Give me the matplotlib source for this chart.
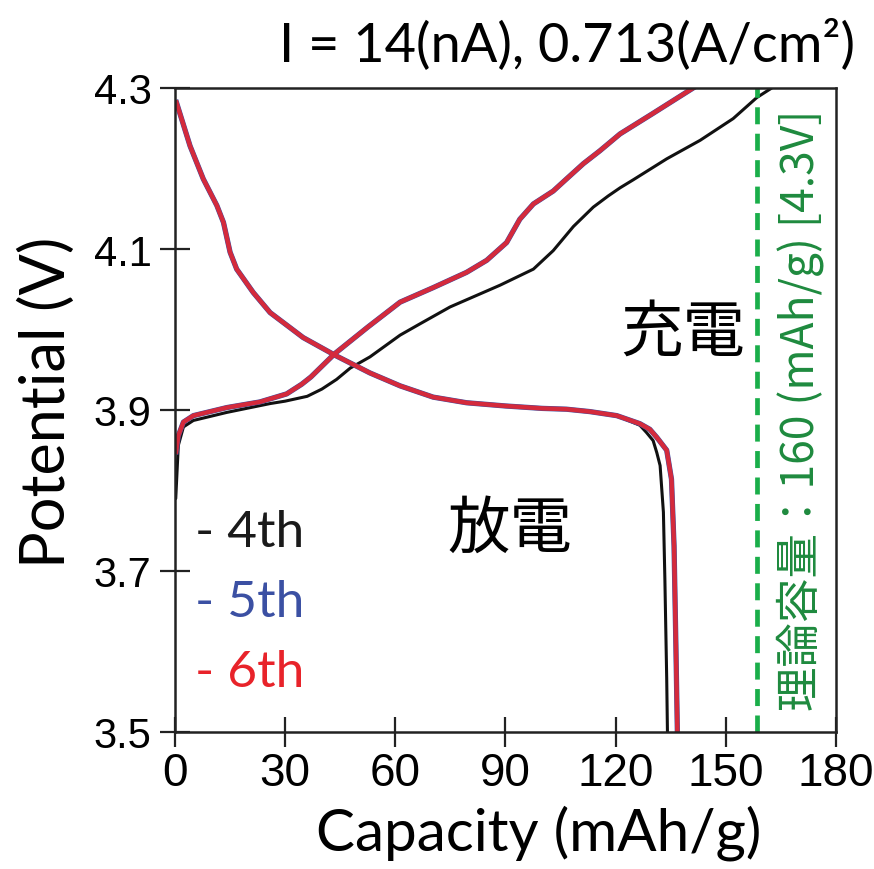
import numpy as np
import matplotlib
matplotlib.use("Agg")
import matplotlib.pyplot as plt

# ---- data (capacity mAh/g, potential V) ----
cap_chg_4 = [0.2, 0.9, 2.3, 5.0, 14.1, 25.9, 30.0, 36.0, 40.0, 44.0, 47.7, 53.1,
             61.3, 66.7, 74.9, 88.5, 97.6, 103.0, 108.5, 113.9, 118.0, 121.2,
             124.8, 133.9, 143.0, 152.0, 158.4, 162.5]
v_chg_4 = [3.790, 3.856, 3.879, 3.887, 3.897, 3.908, 3.911, 3.917, 3.926, 3.938,
           3.952, 3.966, 3.993, 4.007, 4.028, 4.055, 4.075, 4.098, 4.128, 4.152,
           4.166, 4.176, 4.186, 4.212, 4.235, 4.262, 4.288, 4.300]

cap_chg_6 = [0.3, 0.9, 2.3, 5.0, 14.1, 23.1, 30.4, 34.5, 37.0, 43.5, 52.5, 61.3,
             70.3, 79.4, 84.9, 90.3, 93.9, 97.6, 103.0, 106.6, 111.2, 115.7,
             121.2, 130.0, 141.1]
v_chg_6 = [3.848, 3.868, 3.885, 3.893, 3.903, 3.910, 3.920, 3.932, 3.941, 3.970,
           4.003, 4.034, 4.052, 4.071, 4.086, 4.108, 4.137, 4.156, 4.172, 4.187,
           4.206, 4.222, 4.243, 4.268, 4.300]
cap_chg_5 = cap_chg_6
v_chg_5 = v_chg_6

cap_dis_6 = [0.4, 4.1, 7.7, 11.4, 13.2, 15.0, 16.8, 21.3, 25.9, 34.9, 44.0, 53.1,
             61.3, 70.3, 79.4, 90.0, 100.0, 106.6, 113.0, 120.3, 126.6, 129.3,
             131.2, 133.9, 135.2, 135.9, 136.4, 136.8]
v_dis_6 = [4.282, 4.228, 4.187, 4.154, 4.133, 4.096, 4.075, 4.046, 4.021, 3.990,
           3.967, 3.946, 3.930, 3.916, 3.909, 3.905, 3.902, 3.901, 3.898, 3.893,
           3.883, 3.876, 3.866, 3.850, 3.814, 3.731, 3.607, 3.500]
cap_dis_5 = cap_dis_6
v_dis_5 = v_dis_6

cap_dis_4 = [0.4, 4.1, 7.7, 11.4, 13.2, 15.0, 16.8, 21.3, 25.9, 34.9, 44.0, 53.1,
             61.3, 70.3, 79.4, 90.0, 100.0, 106.6, 113.0, 120.3, 126.6, 128.4,
             130.2, 131.2, 132.1, 133.0, 133.4, 133.9, 134.1]
v_dis_4 = [4.282, 4.228, 4.187, 4.154, 4.133, 4.096, 4.075, 4.046, 4.021, 3.990,
           3.967, 3.946, 3.930, 3.916, 3.909, 3.905, 3.902, 3.901, 3.898, 3.893,
           3.881, 3.872, 3.862, 3.847, 3.831, 3.773, 3.690, 3.566, 3.500]

theory_cap = 158.4
xticks = [0, 30, 60, 90, 120, 150, 180]
yticks = [3.5, 3.7, 3.9, 4.1, 4.3]
cycle_labels = ["- 4th", "- 5th", "- 6th"]
cycle_colors = ["#1a1a1a", "#3b50a3", "#e8232a"]

c_black = "#111111"
c_blue = "#3b50a3"
c_red = "#d42a3c"
c_green = "#1aae4a"
c_green_txt = "#1e8a3e"

lat = "Lato"
cjk = ["Noto Sans CJK JP", "DejaVu Sans"]

fig = plt.figure(figsize=(8.74, 8.70), dpi=100)
ax = fig.add_axes([175 / 874, 1 - 733 / 870, 661 / 874, 644 / 870])

# curves
ax.plot(cap_chg_4, v_chg_4, color=c_black, lw=2.2, solid_capstyle="round")
ax.plot(cap_dis_4, v_dis_4, color=c_black, lw=2.2, solid_capstyle="round")
ax.plot(cap_chg_5, v_chg_5, color=c_blue, lw=3.8)
ax.plot(cap_dis_5, v_dis_5, color=c_blue, lw=3.8)
ax.plot(cap_chg_6, v_chg_6, color=c_red, lw=3.2)
ax.plot(cap_dis_6, v_dis_6, color=c_red, lw=3.2)

# theoretical capacity line
ax.axvline(theory_cap, color=c_green, lw=3.4, dashes=(3.6, 2.0))

ax.set_xlim(0, 180)
ax.set_ylim(3.5, 4.3)
ax.set_xticks(xticks)
ax.set_yticks(yticks)
ax.set_yticklabels([f"{v:.1f}" for v in yticks])

for s in ax.spines.values():
    s.set_linewidth(1.8)
    s.set_color("#222222")
ax.tick_params(axis="both", direction="inout", length=21, width=1.6, color="#222222")
ax.tick_params(axis="y", pad=6.5, labelsize=30)
ax.tick_params(axis="x", pad=3.5, labelsize=33)
for lbl in ax.get_yticklabels():
    lbl.set_fontfamily("Liberation Sans")
for lbl in ax.get_xticklabels():
    lbl.set_fontfamily(["Liberation Sans Narrow", "Liberation Sans"])

ax.set_xlabel("Capacity (mAh/g)", fontsize=42, family=lat)
ax.xaxis.set_label_coords(0.55, -0.112)
ax.set_ylabel("Potential (V)", fontsize=44, family=lat)
ax.yaxis.set_label_coords(-0.15, 0.514)

fig.text(855 / 874, 1 - 44 / 870, "I = 14(nA), 0.713(A/cm\u00b2)", fontsize=39,
         family=lat, ha="right", va="center")

# legend text
for i, (lab, col) in enumerate(zip(cycle_labels, cycle_colors)):
    ax.text(5.4, 3.749 - i * 0.087, lab, color=col, fontsize=37, family=lat,
            ha="left", va="center")

ax.text(91.2, 3.752, "放電", fontsize=45, family=cjk, ha="center", va="center")
ax.text(138.3, 3.996, "充電", fontsize=45, family=cjk, ha="center", va="center")
ax.text(170.2, 3.901, "理論容量：160 (mAh/g) [4.3V]", rotation=90, fontsize=32,
        family=cjk, color=c_green_txt, ha="center", va="center")

fig.savefig("out.png", dpi=100)
